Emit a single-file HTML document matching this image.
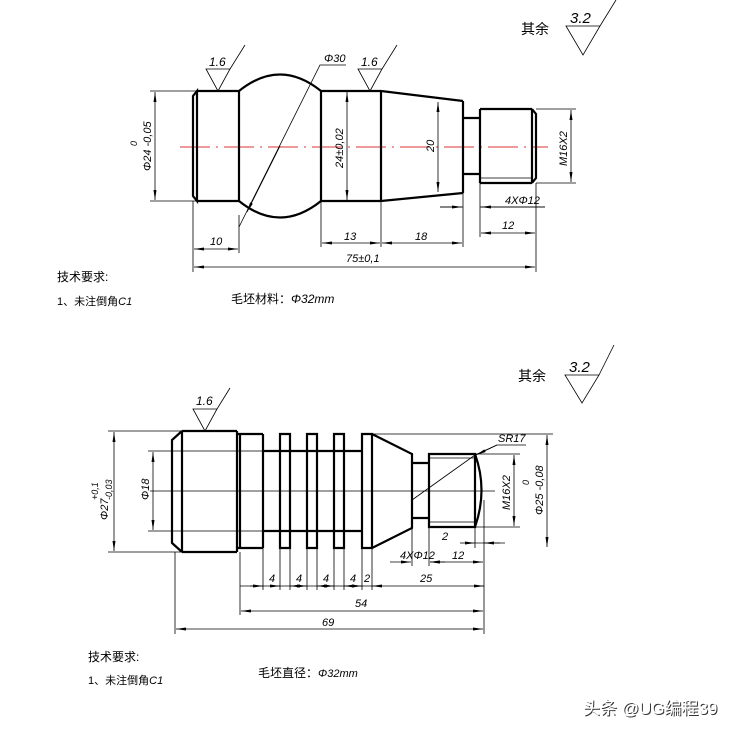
<!DOCTYPE html>
<html><head><meta charset="utf-8"><style>
html,body{margin:0;padding:0;background:#fff;width:755px;height:733px;overflow:hidden}
svg{display:block}
text{font-family:"Liberation Sans","Noto Sans CJK SC",sans-serif;fill:#000}
.i{font-style:italic;font-size:11px}
.t{stroke:#000;stroke-width:2.2;fill:none}
.n{stroke:#000;stroke-width:0.8;fill:none}
.d{stroke:#000;stroke-width:0.8;fill:none;marker-start:url(#a);marker-end:url(#a)}
.e{stroke:#000;stroke-width:0.8;fill:none;marker-end:url(#a)}
</style></head><body>
<svg width="755" height="733" viewBox="0 0 755 733" xmlns="http://www.w3.org/2000/svg">
<defs><marker id="a" markerWidth="10" markerHeight="4" refX="10" refY="2" orient="auto-start-reverse" markerUnits="userSpaceOnUse"><path d="M0,0.5 L10,2 L0,3.5z" fill="#000"/></marker></defs>

<!-- TOP PART -->
<line x1="180" y1="147" x2="548" y2="147" stroke="#d33" stroke-width="0.9" stroke-dasharray="30,6,2,6"/>
<path class="t" d="M197,91 L239,91 M197,201 L239,201 M197,91 L193,96 L193,196 L197,201 Z M197,91 V201 M239,91 V201"/>
<path class="t" d="M239,91 Q280,58 321,91 M239,201 Q280,234 321,201"/>
<path class="t" d="M321,91 H381 M321,201 H381 M321,91 V201 M381,91 V201"/>
<path class="t" d="M381,91 L463,101 M381,201 L463,193 M463,101 V193"/>
<path class="t" d="M463,118 H480 M463,174 H480"/>
<path class="t" d="M480,109 H532 M480,183 H532 M480,109 V183 M532,109 V183 M532,109 L536,114 L536,178 L532,183"/>
<path class="n" d="M480,178 H532"/>
<!-- ext lines -->
<path class="n" d="M150,91 H197 M150,201 H197 M536,109 H576 M536,183 H576 M193,201 V272 M239,215 V253 M321,201 V247 M381,201 V247 M463,193 V247 M480,183 V237 M536,183 V272 M440,207 H463 M480,207 H545"/>
<line class="d" x1="155" y1="92" x2="155" y2="200"/>
<text class="i" transform="translate(151,171) rotate(-90)">Φ24 -0,05</text>
<text class="i" transform="translate(137,146) rotate(-90)" style="font-size:9px">0</text>
<line class="d" x1="347" y1="92" x2="347" y2="200"/>
<text class="i" transform="translate(343,168) rotate(-90)">24±0,02</text>
<line class="d" x1="438" y1="102" x2="438" y2="192"/>
<text class="i" transform="translate(434,152) rotate(-90)">20</text>
<line class="d" x1="571" y1="110" x2="571" y2="182"/>
<text class="i" transform="translate(567,166) rotate(-90)">M16X2</text>
<line class="d" x1="194" y1="249" x2="238" y2="249"/><text class="i" x="210" y="245">10</text>
<line class="d" x1="322" y1="243" x2="380" y2="243"/><text class="i" x="344" y="240">13</text>
<line class="d" x1="382" y1="243" x2="462" y2="243"/><text class="i" x="415" y="240">18</text>
<line class="d" x1="481" y1="233" x2="535" y2="233"/><text class="i" x="502" y="229">12</text>
<line class="d" x1="194" y1="267" x2="535" y2="267"/><text class="i" x="346" y="262">75±0,1</text>
<path class="e" d="M440,207 H462"/><path class="e" d="M545,207 H481"/>
<text class="i" x="505" y="204">4XΦ12</text>
<!-- phi30 leader -->
<path class="n" d="M239,227 L320,65 H346"/><path class="e" d="M280,146 L247,212"/>
<text class="i" x="324" y="62">Φ30</text>
<!-- roughness -->
<path class="n" d="M206,69 L218,91 L230,69 Z M230,69 L245,45"/><text class="i" x="209" y="66" style="font-size:12px">1.6</text>
<path class="n" d="M358,69 L370,91 L382,69 Z M382,69 L397,45"/><text class="i" x="361" y="66" style="font-size:12px">1.6</text>
<text x="521" y="34" style="font-size:14px">其余</text>
<path class="n" d="M566,26 L583,55 L600,26 Z M600,26 L616,0"/><text class="i" x="570" y="23" style="font-size:15px">3.2</text>
<text x="57" y="281" style="font-size:12px">技术要求:</text>
<text x="57" y="305" style="font-size:11px">1、未注倒角<tspan class="i">C1</tspan></text>
<text x="231" y="303" style="font-size:12px">毛坯材料：<tspan class="i" style="font-size:12px">Φ32mm</tspan></text>

<!-- BOTTOM PART -->
<line class="n" x1="150" y1="491" x2="495" y2="491"/>
<path class="t" d="M182,431 H237 M182,552 H237 M182,431 L172,440 V543 L182,552 M182,431 V552 M237,431 V552 M240,434 V548 M237,434 H263 M237,548 H263 M263,434 V548"/>
<path class="t" d="M263,451 H362 M263,531 H362"/>
<path class="t" d="M280,434 H290 V548 H280 Z M307,434 H317 V548 H307 Z M334,434 H344 V548 H334 Z M362,434 H372 V548 H362 Z"/>
<path class="t" d="M372,434 L412,454 V528 L372,548"/>
<path class="t" d="M412,463 H429 M412,518 H429"/>
<path class="t" d="M429,454 H475 V527 H429 Z M475,454 Q488,490 475,527"/>
<path class="n" d="M429,458 H475 M429,522 H475"/>
<!-- ext lines -->
<path class="n" d="M108,431 H182 M108,552 H182 M148,451 H263 M148,531 H263 M372,434 H553 M475,454 H520 M475,527 H520 M175,552 V634 M240,552 V615 M263,548 V590 M280,548 V590 M290,548 V590 M307,548 V590 M317,548 V590 M334,548 V590 M344,548 V590 M362,548 V590 M372,548 V590 M412,528 V566 M429,527 V566 M484,500 V634 M475,527 V548"/>
<line class="d" x1="114" y1="432" x2="114" y2="551"/>
<text class="i" transform="translate(108,520) rotate(-90)">Φ27</text>
<text class="i" transform="translate(98,500) rotate(-90)" style="font-size:9px">+0,1</text>
<text class="i" transform="translate(112,500) rotate(-90)" style="font-size:9px">-0,03</text>
<line class="d" x1="153" y1="452" x2="153" y2="530"/>
<text class="i" transform="translate(149,500) rotate(-90)">Φ18</text>
<line class="d" x1="547" y1="435" x2="547" y2="547"/>
<text class="i" transform="translate(543,515) rotate(-90)">Φ25 -0,08</text>
<text class="i" transform="translate(529,485) rotate(-90)" style="font-size:9px">0</text>
<line class="d" x1="514" y1="455" x2="514" y2="526"/>
<text class="i" transform="translate(510,510) rotate(-90)">M16X2</text>
<path class="n" d="M412,500 L475,455 L497,445 H526"/><path class="e" d="M497,445 L476,455"/>
<text class="i" x="498" y="442">SR17</text>
<path class="e" d="M460,543 H475"/><path class="e" d="M500,543 H484"/><path class="n" d="M475,543 H505"/>
<text class="i" x="442" y="540">2</text>
<path class="e" d="M390,562 H411"/><path class="e" d="M445,562 H430"/><path class="d" d="M430,562 H483"/>
<text class="i" x="400" y="559">4XΦ12</text><text class="i" x="452" y="559">12</text>
<path class="n" d="M240,586 H484"/>
<path class="e" d="M250,586 H263"/><path class="e" d="M270,586 H280"/><path class="e" d="M300,586 H290"/><path class="e" d="M297,586 H307"/><path class="e" d="M327,586 H317"/><path class="e" d="M324,586 H334"/><path class="e" d="M354,586 H344"/><path class="e" d="M352,586 H362"/><path class="e" d="M382,586 H372"/><path class="e" d="M474,586 H484"/>
<text class="i" x="269" y="582">4</text><text class="i" x="296" y="582">4</text><text class="i" x="323" y="582">4</text><text class="i" x="350" y="582">4</text><text class="i" x="364" y="582">2</text><text class="i" x="420" y="582">25</text>
<line class="d" x1="241" y1="611" x2="483" y2="611"/><text class="i" x="355" y="607">54</text>
<line class="d" x1="176" y1="629" x2="483" y2="629"/><text class="i" x="322" y="626">69</text>
<path class="n" d="M193,409 L205,431 L217,409 Z M217,409 L230,388"/><text class="i" x="196" y="405" style="font-size:12px">1.6</text>
<text x="518" y="381" style="font-size:14px">其余</text>
<path class="n" d="M565,375 L582,403 L599,375 Z M599,375 L614,345"/><text class="i" x="569" y="372" style="font-size:15px">3.2</text>
<text x="88" y="661" style="font-size:12px">技术要求:</text>
<text x="88" y="684" style="font-size:11px">1、未注倒角<tspan class="i">C1</tspan></text>
<text x="258" y="677" style="font-size:12px">毛坯直径：<tspan class="i">Φ32mm</tspan></text>
<text x="584" y="715" style="font-size:17px;fill:#333">头条 @UG编程39</text>
<text x="583" y="714" style="font-size:17px;fill:#fff">头条 @UG编程39</text>
</svg>
</body></html>
